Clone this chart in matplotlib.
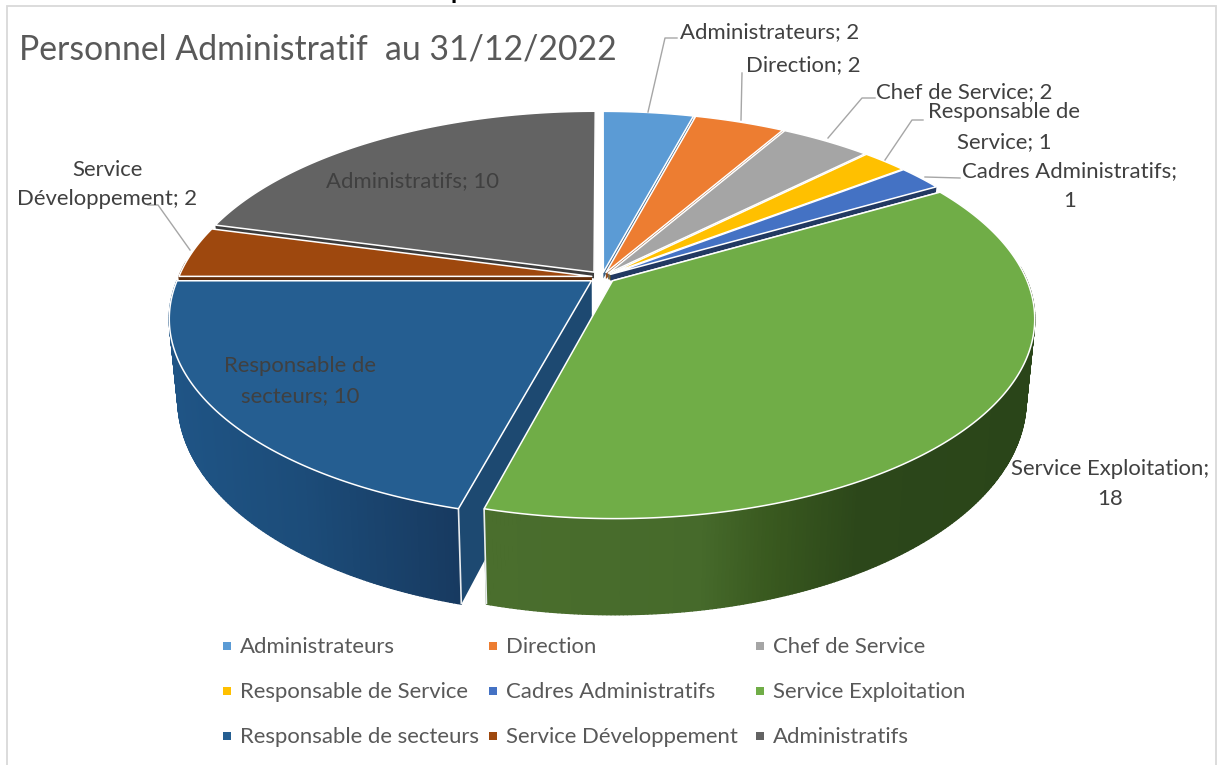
import numpy as np
import matplotlib
matplotlib.use("Agg")
import matplotlib.pyplot as plt
from matplotlib.collections import PolyCollection
from matplotlib.colors import to_rgb
from matplotlib.patches import Polygon, Rectangle

categories = ["Administrateurs", "Direction", "Chef de Service", "Responsable de Service",
              "Cadres Administratifs", "Service Exploitation", "Responsable de secteurs",
              "Service Développement", "Administratifs"]
values = [2, 2, 2, 1, 1, 18, 10, 2, 10]
colors = ["#5B9BD5", "#ED7D31", "#A5A5A5", "#FFC000", "#4472C4", "#70AD47", "#255E91", "#9E480E", "#636363"]
title = "Personnel Administratif  au 31/12/2022"

plt.rcParams["font.family"] = ["Lato", "DejaVu Sans"]
W, H = 1217, 765
fig = plt.figure(figsize=(W / 100, H / 100), dpi=100)
ax = fig.add_axes([0, 0, 1, 1])
ax.set_xlim(0, W)
ax.set_ylim(H, 0)
ax.axis("off")

# projection of the pie disc
CX, CY, RX, RY, K, DEPTH, TAPER = 602, 277, 413, 192.3, 0.185, 78, 0.02


def proj(th, r, mid, z=0.0, expl=0.025):
    u = r * np.sin(th) + expl * np.sin(mid)
    v = -r * np.cos(th) - expl * np.cos(mid)
    s = 1 / (1 - K * v)
    return np.column_stack([CX + RX * u * s * (1 - TAPER * z), CY + RY * v * s + DEPTH * z * s])


def shade(c, f):
    return tuple(np.array(to_rgb(c)) * f)


wall_stops = {
    5: ([490, 700, 770, 860, 1035], ["#4a6e2d", "#466a2b", "#39591f", "#2c471a", "#2a4519"]),
    6: ([172, 300, 465], ["#1f5485", "#1c4c79", "#17395f"]),
}


def wall_color(i, x):
    if i in wall_stops:
        xs, cs = wall_stops[i]
        rgb = np.array([to_rgb(c) for c in cs])
        return tuple(np.interp(x, xs, rgb[:, k]) for k in range(3))
    return shade(colors[i], 0.6)


total = sum(values)
edges = np.concatenate([[0], np.cumsum(values)]) / total * 2 * np.pi
order = sorted(range(len(values)), key=lambda i: (round(-np.cos((edges[i] + edges[i + 1]) / 2), 6), -i))

for i in order:
    a, b = edges[i], edges[i + 1]
    mid = (a + b) / 2
    expl = 0.032 if values[i] >= 10 else 0.025
    arc = np.linspace(a, b, max(int(values[i] * 16), 12))
    # cut faces: only the two front slices show a full-height face
    face_z = 1.0 if i in wall_stops else 0.08
    for e in (a, b):
        tt = np.array([e, e])
        rr = np.array([0.0, 1.0])
        top = proj(tt, rr, mid, expl=expl)
        bot = proj(tt, rr, mid, face_z, expl=expl)
        f = {4: 0.5, 6: 0.78}.get(i, 0.62)
        ax.add_patch(Polygon(np.vstack([top, bot[::-1]]), closed=True, fc=shade(colors[i], f),
                             ec="none", zorder=2))
    # outer wall
    mask = -np.cos(arc) > -0.08
    if mask.sum() > 1:
        th = arc[mask]
        top = proj(th, np.ones_like(th), mid, expl=expl)
        bot = proj(th, np.ones_like(th), mid, 1.0, expl=expl)
        quads, cols = [], []
        for j in range(len(th) - 1):
            quads.append([top[j], top[j + 1], bot[j + 1], bot[j]])
            cols.append(wall_color(i, (top[j, 0] + top[j + 1, 0]) / 2))
        ax.add_collection(PolyCollection(quads, facecolors=cols, edgecolors=cols, linewidths=1.0, zorder=2))
        for k in (0, -1):
            if i in wall_stops:
                ax.plot([top[k, 0], bot[k, 0]], [top[k, 1], bot[k, 1]], color="#e8ecef", lw=1.2, zorder=2,
                        solid_capstyle="butt")
    # top face
    th = np.concatenate([[a], arc, [b]])
    rr = np.concatenate([[0.0], np.ones_like(arc), [0.0]])
    ax.add_patch(Polygon(proj(th, rr, mid, expl=expl), closed=True, fc=colors[i], ec="white", lw=1.1,
                         joinstyle="round", zorder=2))

label_color = "#404040"
fs = 15.9
labels = [
    ("Administrateurs; 2", 770, 32), ("Direction; 2", 803, 65), ("Chef de Service; 2", 964, 92),
    ("Responsable de\nService; 1", 1004, 127), ("Cadres Administratifs;\n1", 1070, 186),
    ("Service Exploitation;\n18", 1110, 484), ("Responsable de\nsecteurs; 10", 300, 381),
    ("Service\nDéveloppement; 2", 107, 184.5), ("Administratifs; 10", 413, 181),
]
for txt, x, y in labels:
    ax.text(x, y, txt, ha="center", va="center", fontsize=fs, color=label_color, linespacing=1.6, zorder=4)

leaders = [
    [(648, 112), (665, 38), (677, 38)],
    [(741, 120), (742, 73)],
    [(828, 138), (862, 98), (875, 98)],
    [(885, 160), (912, 120), (923, 120)],
    [(925, 177), (960, 178)],
    [(190, 250), (158, 205), (148, 205)],
]
for pts in leaders:
    xs, ys = zip(*pts)
    ax.plot(xs, ys, color="#a6a6a6", lw=1.0, zorder=3)

ax.text(19, 49, title, fontsize=24.3, color="#595959", ha="left", va="center")

# legend
col_x = [223, 489, 756]
row_y = [647, 692, 737]
for i, name in enumerate(categories):
    x, y = col_x[i % 3], row_y[i // 3]
    ax.add_patch(Rectangle((x, y - 5), 8, 8, fc=colors[i], ec="none"))
    ax.text(x + 17, y, name, fontsize=fs, color="#595959", ha="left", va="center")

# frame and clipped heading
ax.plot([6.5, 6.5, 1216, 1216], [765, 6, 6, 765], color="#d9d9d9", lw=1.3, solid_joinstyle="miter")
ax.text(451, -1, "p", fontsize=18, fontweight="bold", color="black", ha="left", va="baseline")

fig.savefig("out.png", dpi=100)
